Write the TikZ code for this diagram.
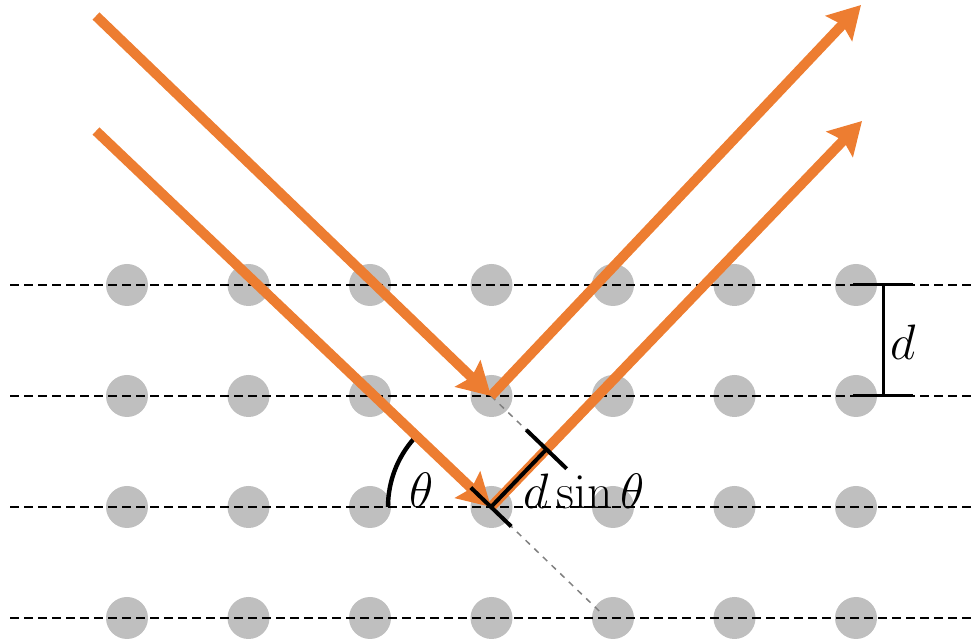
\documentclass[tikz,border=0pt]{standalone}
\usepackage{amsmath}
\usepackage{xcolor}
\usepackage{tikz}
\usetikzlibrary{arrows.meta, calc}
\definecolor{rayorange}{RGB}{237, 125, 49}
\definecolor{atomgray}{RGB}{191, 191, 191}
\definecolor{guidegray}{RGB}{128, 128, 128}

\begin{document}
\begin{tikzpicture}[x=0.5pt, y=-0.5pt, font=\fontsize{24}{28}\selectfont,
    ray/.style={line width=5pt, rayorange, -{Stealth[length=16pt, width=18pt, inset=2.5pt]}},
    plane/.style={line width=1pt, dash pattern=on 4.5pt off 2.5pt},
    guide/.style={guidegray, line width=0.75pt, dash pattern=on 3pt off 3pt},
    marker/.style={line width=2pt}]
  \useasboundingbox (0,0) rectangle (976,641);

  % Lattice planes with atoms
  \foreach \row/\y in {1/285, 2/396, 3/507, 4/618}{
    \foreach \col in {0,...,6}{
      \fill[atomgray] (127+121.5*\col,\y) circle (21);
    }
    \draw[plane] (10,\y) -- (976,\y);
  }

  % Reflection points and ray ends
  \coordinate (top) at (491,396);
  \coordinate (bot) at (491,507);
  \coordinate (inA) at (96,16);
  \coordinate (inB) at (96,131);
  \coordinate (outA) at (861,5);
  \coordinate (outB) at (862,121);
  \coordinate (foot) at ($(bot)!(top)!(outB)$);
  \coordinate (up) at ($(bot)+(top)-(foot)$);

  % Guide lines
  \draw[guide] (top) -- ($(foot)!-14pt!(top)$);
  \draw[guide] (bot) -- ($(bot)!-75pt!(up)$);

  % Angle
  \draw[line width=2.2pt] ($(bot)+(-103,0)$) arc[start angle=180, end angle=222, radius=103];
  \node (thetalabel) at (422,490) {$\theta$};

  % Rays
  \draw[ray] (inA) -- (top);
  \draw[ray] (inB) -- (bot);
  \draw[ray] (top) -- (outA);
  \draw[ray] (bot) -- (outB);

  % Path difference
  \draw[marker] (bot) -- (foot);
  \draw[marker] ($(foot)!14pt!(top)$) -- ($(foot)!-14pt!(top)$);
  \draw[marker] ($(bot)!14pt!(up)$) -- ($(bot)!-14pt!(up)$);
  \node (pathdiff) at (584,491) {$d\sin\theta$};

  % Plane spacing
  \coordinate (dtop) at (883,285);
  \coordinate (dbot) at (883,396);
  \draw[line width=1.5pt] (dtop) -- (dbot);
  \draw[line width=1.5pt] ([xshift=-15pt]dtop) -- ([xshift=15pt]dtop);
  \draw[line width=1.5pt] ([xshift=-15pt]dbot) -- ([xshift=15pt]dbot);
  \node (dlabel) at (903,342) {$d$};
\end{tikzpicture}
\end{document}
